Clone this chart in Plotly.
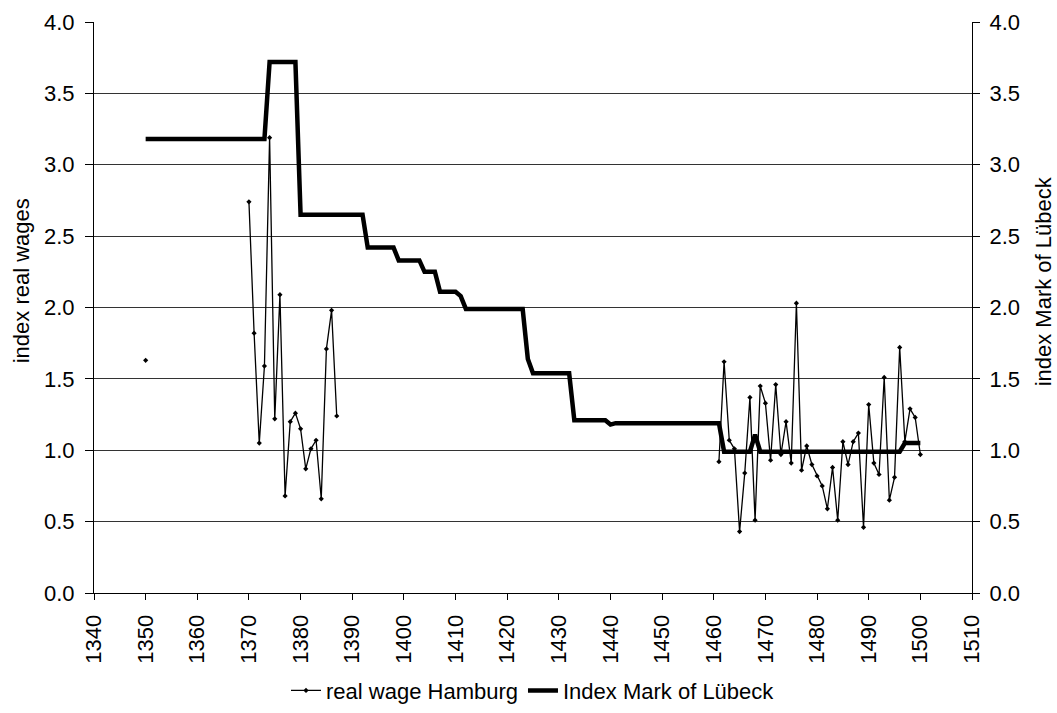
import plotly.graph_objects as go

# Real wage Hamburg (None marks gaps in the series)
wage_years = [1350, 1351,
              1370, 1371, 1372, 1373, 1374, 1375, 1376, 1377, 1378, 1379,
              1380, 1381, 1382, 1383, 1384, 1385, 1386, 1387, 1388,
              1461, 1462, 1463, 1464, 1465, 1466, 1467, 1468, 1469, 1470,
              1471, 1472, 1473, 1474, 1475, 1476, 1477, 1478, 1479, 1480,
              1481, 1482, 1483, 1484, 1485, 1486, 1487, 1488, 1489, 1490,
              1491, 1492, 1493, 1494, 1495, 1496, 1497, 1498, 1499, 1500]
wage_values = [1.63, None,
               2.74, 1.82, 1.05, 1.59, 3.19, 1.22, 2.09, 0.68, 1.20, 1.26,
               1.15, 0.87, 1.01, 1.07, 0.66, 1.71, 1.98, 1.24, None,
               0.92, 1.62, 1.07, 1.01, 0.43, 0.84, 1.37, 0.51, 1.45, 1.33,
               0.93, 1.46, 0.97, 1.20, 0.91, 2.03, 0.86, 1.03, 0.90, 0.82,
               0.75, 0.59, 0.88, 0.51, 1.06, 0.90, 1.06, 1.12, 0.46, 1.32,
               0.91, 0.83, 1.51, 0.65, 0.81, 1.72, 1.06, 1.29, 1.23, 0.97]

# Index Mark of Lübeck (years where the value changes)
mark_years = [1350, 1373, 1374, 1379, 1380, 1392, 1393, 1398, 1399, 1403,
              1404, 1406, 1407, 1410, 1411, 1412, 1423, 1424, 1425, 1432,
              1433, 1439, 1440, 1441, 1461, 1462, 1467, 1468, 1469, 1496,
              1497, 1500]
mark_values = [3.18, 3.18, 3.72, 3.72, 2.65, 2.65, 2.42, 2.42, 2.33, 2.33,
               2.25, 2.25, 2.11, 2.11, 2.08, 1.99, 1.99, 1.64, 1.54, 1.54,
               1.21, 1.21, 1.18, 1.19, 1.19, 0.99, 0.99, 1.11, 0.99, 0.99,
               1.05, 1.05]

left_title = "index real wages"
right_title = "index Mark of Lübeck"

FONT = "Liberation Sans, Arial, sans-serif"
FS = 22

fig = go.Figure()
fig.add_trace(go.Scatter(
    x=wage_years, y=wage_values, name="real wage Hamburg",
    mode="lines+markers", connectgaps=False,
    line=dict(color="black", width=1.3),
    marker=dict(color="black", size=4, symbol="diamond"),
))
fig.add_trace(go.Scatter(
    x=mark_years, y=mark_values, name="Index Mark of Lübeck",
    mode="lines", yaxis="y2",
    line=dict(color="black", width=4.5),
))

fig.update_layout(
    width=1057, height=713,
    margin=dict(l=94, r=85, t=22, b=120, autoexpand=False),
    paper_bgcolor="white", plot_bgcolor="white",
    font=dict(family=FONT, size=FS, color="black"),
    showlegend=True,
    legend=dict(orientation="h", x=0.5, xanchor="center", y=-0.171,
                yanchor="middle", font=dict(family=FONT, size=FS),
                bgcolor="rgba(0,0,0,0)", traceorder="normal"),
    xaxis=dict(range=[1340, 1510], dtick=10, tick0=1340, tickangle=-90,
               ticks="outside", ticklen=6, tickcolor="black",
               ticklabelstandoff=6,
               showline=True, linecolor="black", linewidth=1,
               showgrid=False, zeroline=False, automargin=False,
               tickfont=dict(family=FONT, size=FS)),
    yaxis=dict(range=[0, 4], dtick=0.5, tickformat=".1f",
               ticks="outside", ticklen=8, tickcolor="black",
               ticklabelstandoff=6,
               showline=True, linecolor="black", linewidth=1,
               showgrid=True, gridcolor="#333333", gridwidth=1,
               zeroline=False, automargin=False,
               tickfont=dict(family=FONT, size=FS)),
    yaxis2=dict(range=[0, 4], dtick=0.5, tickformat=".1f",
                overlaying="y", side="right",
                ticks="outside", ticklen=7, tickcolor="black",
                ticklabelstandoff=5,
                showline=True, linecolor="black", linewidth=1,
                showgrid=False, zeroline=False, automargin=False,
                tickfont=dict(family=FONT, size=FS)),
    annotations=[
        dict(text=left_title, textangle=-90, xref="paper", yref="paper",
             x=-0.0831, y=0.546, xanchor="center", yanchor="middle",
             showarrow=False, font=dict(family=FONT, size=FS)),
        dict(text=right_title, textangle=-90, xref="paper", yref="paper",
             x=1.081, y=0.546, xanchor="center", yanchor="middle",
             showarrow=False, font=dict(family=FONT, size=FS)),
    ],
)

fig.write_html("out.html", config={"displayModeBar": False},
               post_script="document.body.style.margin='0';")
